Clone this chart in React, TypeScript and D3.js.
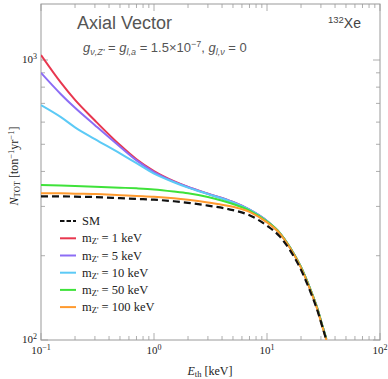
import React from "react";
import * as d3 from "d3";

const width = 388;
const height = 379;
const margin = { left: 41, right: 8, top: 4, bottom: 39 };

// threshold energies (keV)
const energies = [0.1, 0.15, 0.2, 0.3, 0.5, 0.7, 1, 1.5, 2, 3, 5, 7, 10, 13, 16, 20, 24, 28, 31, 33.5];

// integrated event counts [ton^-1 yr^-1]
const smCounts = [326, 326, 325, 324, 321, 319, 317, 313, 309, 302, 291, 279, 256, 234, 209, 178, 150, 127, 111, 100];
const mz1Counts = [1042, 830, 720, 608, 497, 442, 401, 369, 352, 333, 311, 292, 266, 241, 214, 182, 153, 129, 112, 101];
const mz5Counts = [900, 755, 675, 585, 490, 438, 398, 368, 352, 333, 311, 292, 266, 241, 214, 182, 153, 129, 112, 101];
const mz10Counts = [690, 625, 575, 522, 464, 428, 393, 366, 350, 332, 310, 292, 266, 241, 214, 182, 153, 129, 112, 101];
const mz50Counts = [358, 356, 355, 353, 350, 348, 345, 339, 334, 324, 306, 290, 265, 241, 214, 182, 153, 129, 112, 101];
const mz100Counts = [334, 334, 333, 332, 329, 327, 325, 321, 317, 310, 299, 287, 263, 240, 213, 181, 152, 128, 111, 100];

const seriesNames = ["1", "5", "10", "50", "100"];
const seriesColors = ["#e8374f", "#8c6df5", "#5ccaf6", "#3fe23a", "#ff9a2e"];
const seriesData = [mz1Counts, mz5Counts, mz10Counts, mz50Counts, mz100Counts];

const xDecades = [-1, 0, 1, 2];
const yDecades = [2, 3];

const serif = "'Liberation Serif', 'DejaVu Serif', serif";
const sans = "'Liberation Sans', Arial, sans-serif";

const expText = (k: number) => (k < 0 ? "\u2212" + Math.abs(k) : String(k));

export default function App() {
  const x = d3
    .scaleLog()
    .domain([0.1, 100])
    .range([margin.left, width - margin.right]);
  const y = d3
    .scaleLog()
    .domain([100, 1585])
    .range([height - margin.bottom, margin.top]);

  const line = d3
    .line<number>()
    .x((d, i) => x(energies[i]))
    .y((d) => y(d))
    .curve(d3.curveMonotoneX);

  const x0 = margin.left;
  const x1 = width - margin.right;
  const y0 = height - margin.bottom;
  const y1 = margin.top;

  const xTicks: { v: number; major: boolean }[] = [];
  xDecades.forEach((k) => {
    xTicks.push({ v: Math.pow(10, k), major: true });
    if (k < 2) for (let m = 2; m <= 9; m++) xTicks.push({ v: m * Math.pow(10, k), major: false });
  });
  const yTicks: { v: number; major: boolean }[] = [];
  yDecades.forEach((k) => {
    yTicks.push({ v: Math.pow(10, k), major: true });
    for (let m = 2; m <= 9; m++) {
      const v = m * Math.pow(10, k);
      if (v <= 1585) yTicks.push({ v, major: false });
    }
  });

  const tickColor = "#999";
  const legendY = [221, 238.3, 255.5, 272.7, 289.9, 307.1];

  return (
    <div style={{ position: "absolute", left: 0, top: 0 }}>
      <svg width={width} height={height} style={{ display: "block" }}>
        <defs>
          <clipPath id="plot">
            <rect x={x0} y={y1} width={x1 - x0} height={y0 - y1} />
          </clipPath>
        </defs>
        <rect width={width} height={height} fill="#fff" />

        {/* ticks on all four sides */}
        {xTicks.map((t, i) => {
          const px = x(t.v);
          const len = t.major ? 7 : 4;
          return (
            <g key={"xt" + i} stroke={tickColor} strokeWidth={0.8}>
              <line x1={px} x2={px} y1={y0} y2={y0 - len} />
              <line x1={px} x2={px} y1={y1} y2={y1 + len} />
            </g>
          );
        })}
        {yTicks.map((t, i) => {
          const py = y(t.v);
          const len = t.major ? 7 : 4;
          return (
            <g key={"yt" + i} stroke={tickColor} strokeWidth={0.8}>
              <line x1={x0} x2={x0 + len} y1={py} y2={py} />
              <line x1={x1} x2={x1 - len} y1={py} y2={py} />
            </g>
          );
        })}

        <rect x={x0} y={y1} width={x1 - x0} height={y0 - y1} fill="none" stroke="#9a9a9a" strokeWidth={1} />

        {/* tick labels */}
        {xDecades.map((k) => (
          <text key={"xl" + k} x={x(Math.pow(10, k))} y={354} fontFamily={serif} fontSize={11} textAnchor="middle" fill="#222">
            10
            <tspan dy={-4.5} fontSize={8}>{expText(k)}</tspan>
          </text>
        ))}
        {yDecades.map((k) => (
          <text key={"yl" + k} x={37} y={y(Math.pow(10, k)) + 3} fontFamily={serif} fontSize={11} textAnchor="end" fill="#222">
            10
            <tspan dy={-4.5} fontSize={8}>{expText(k)}</tspan>
          </text>
        ))}

        {/* curves */}
        <g clipPath="url(#plot)" fill="none">
          {seriesData.map((s, i) => (
            <path key={"s" + i} d={line(s) || ""} stroke={seriesColors[i]} strokeWidth={2} />
          ))}
          <path d={line(smCounts) || ""} stroke="#111" strokeWidth={2.2} strokeDasharray="7,4" />
        </g>

        {/* legend */}
        <line x1={60} x2={76} y1={legendY[0]} y2={legendY[0]} stroke="#111" strokeWidth={2.2} strokeDasharray="4.5,2" />
        <text x={82} y={legendY[0] + 4} fontFamily={serif} fontSize={12.5} fill="#222">SM</text>
        {seriesNames.map((n, i) => (
          <g key={"lg" + i}>
            <line x1={60} x2={76} y1={legendY[i + 1]} y2={legendY[i + 1]} stroke={seriesColors[i]} strokeWidth={2} />
            <text x={82} y={legendY[i + 1] + 4} fontFamily={serif} fontSize={12.5} fill="#222">
              m<tspan fontSize={8.5} dy={2}>Z'</tspan>
              <tspan dy={-2}> = {n} keV</tspan>
            </text>
          </g>
        ))}

        {/* annotations */}
        <text x={77} y={29} fontFamily={sans} fontSize={18} fill="#555">Axial Vector</text>
        <text x={328} y={28} fontFamily={sans} fontSize={14} fill="#444">
          <tspan fontSize={9.5} dy={-5}>132</tspan>
          <tspan dy={5}>Xe</tspan>
        </text>
        <text x={83} y={52} fontFamily={sans} fontSize={13} fill="#555">
          <tspan fontStyle="italic">g</tspan>
          <tspan fontSize={9} dy={3} fontStyle="italic">ν,Z'</tspan>
          <tspan dy={-3}> = </tspan>
          <tspan fontStyle="italic">g</tspan>
          <tspan fontSize={9} dy={3} fontStyle="italic">l,a</tspan>
          <tspan dy={-3}> = 1.5×10</tspan>
          <tspan fontSize={9} dy={-5}>−7</tspan>
          <tspan dy={5}>, </tspan>
          <tspan fontStyle="italic">g</tspan>
          <tspan fontSize={9} dy={3} fontStyle="italic">l,ν</tspan>
          <tspan dy={-3}> = 0</tspan>
        </text>

        {/* axis labels */}
        <text x={210} y={375} fontFamily={serif} fontSize={12} textAnchor="middle" fill="#222">
          <tspan fontStyle="italic">E</tspan>
          <tspan fontSize={8.5} dy={2}>th</tspan>
          <tspan dy={-2}> [keV]</tspan>
        </text>
        <text transform="translate(18,166) rotate(-90)" fontFamily={serif} fontSize={12} textAnchor="middle" fill="#222">
          <tspan fontStyle="italic">N</tspan>
          <tspan fontSize={8.5} dy={2}>TOT</tspan>
          <tspan dy={-2}> [ton</tspan>
          <tspan fontSize={8.5} dy={-4}>−1</tspan>
          <tspan dy={4}>yr</tspan>
          <tspan fontSize={8.5} dy={-4}>−1</tspan>
          <tspan dy={4}>]</tspan>
        </text>
      </svg>
    </div>
  );
}
